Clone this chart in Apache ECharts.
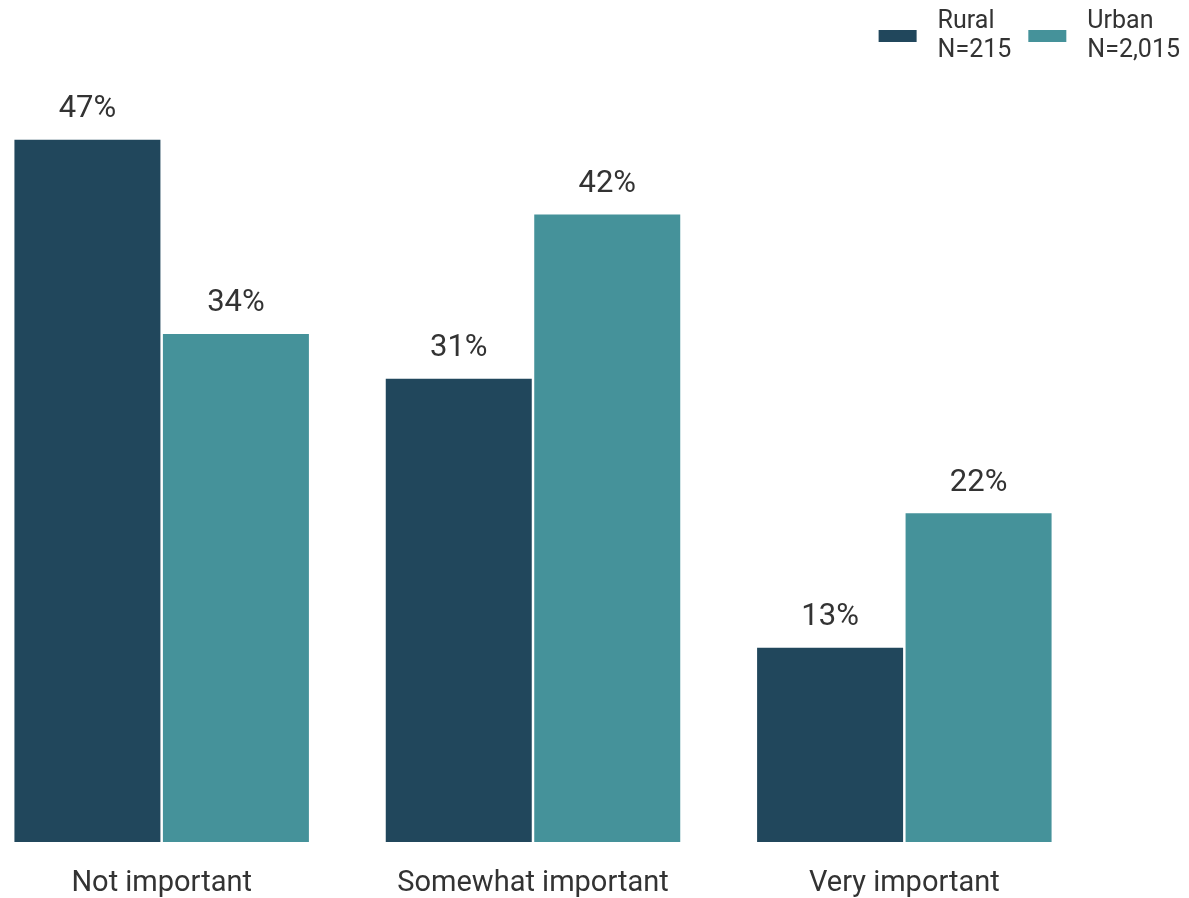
<!DOCTYPE html>
<html>
<head>
<meta charset="utf-8">
<script src="https://cdn.jsdelivr.net/npm/echarts@6/dist/echarts.min.js"></script>
<style>
html,body{margin:0;padding:0;background:#fff;overflow:hidden;}
#main{position:absolute;left:-24px;top:0;width:1213px;height:898px;}
</style>
</head>
<body>
<div id="main"></div>
<script>
const categories = ['Not important', 'Somewhat important', 'Very important'];
const seriesNames = ['Rural\nN=215', 'Urban\nN=2,015'];
const rural = [47, 31, 13];
const urban = [34, 42, 22];
const colors = ['#21475c', '#45929a'];

const chart = echarts.init(document.getElementById('main'), null, {renderer: 'canvas'});
const labelCfg = {
  show: true,
  position: 'top',
  distance: 15,
  formatter: '{c}%',
  fontFamily: 'Roboto',
  fontSize: 31,
  color: '#333333'
};
chart.setOption({
  animation: false,
  color: colors,
  textStyle: {fontFamily: 'Roboto'},
  legend: {
    right: 4,
    top: 2,
    itemWidth: 38,
    itemHeight: 12,
    itemGap: 17,
    icon: 'rect',
    textStyle: {fontFamily: 'Roboto', fontSize: 25, color: '#333333', lineHeight: 29, padding: [0, 0, 0, 16]},
    data: seriesNames
  },
  grid: {left: 0, width: 1114, top: 95, bottom: 56, containLabel: false},
  xAxis: {
    type: 'category',
    data: categories,
    axisLine: {show: false},
    axisTick: {show: false},
    axisLabel: {fontFamily: 'Roboto', fontSize: 29, color: '#333333', margin: 27}
  },
  yAxis: {
    type: 'value',
    min: 0,
    max: 50,
    show: false,
    splitLine: {show: false}
  },
  series: [
    {name: seriesNames[0], type: 'bar', data: rural, barWidth: 146, barGap: '1.7%', label: labelCfg},
    {name: seriesNames[1], type: 'bar', data: urban, barWidth: 146, barGap: '1.7%', label: labelCfg}
  ]
});
</script>
</body>
</html>
